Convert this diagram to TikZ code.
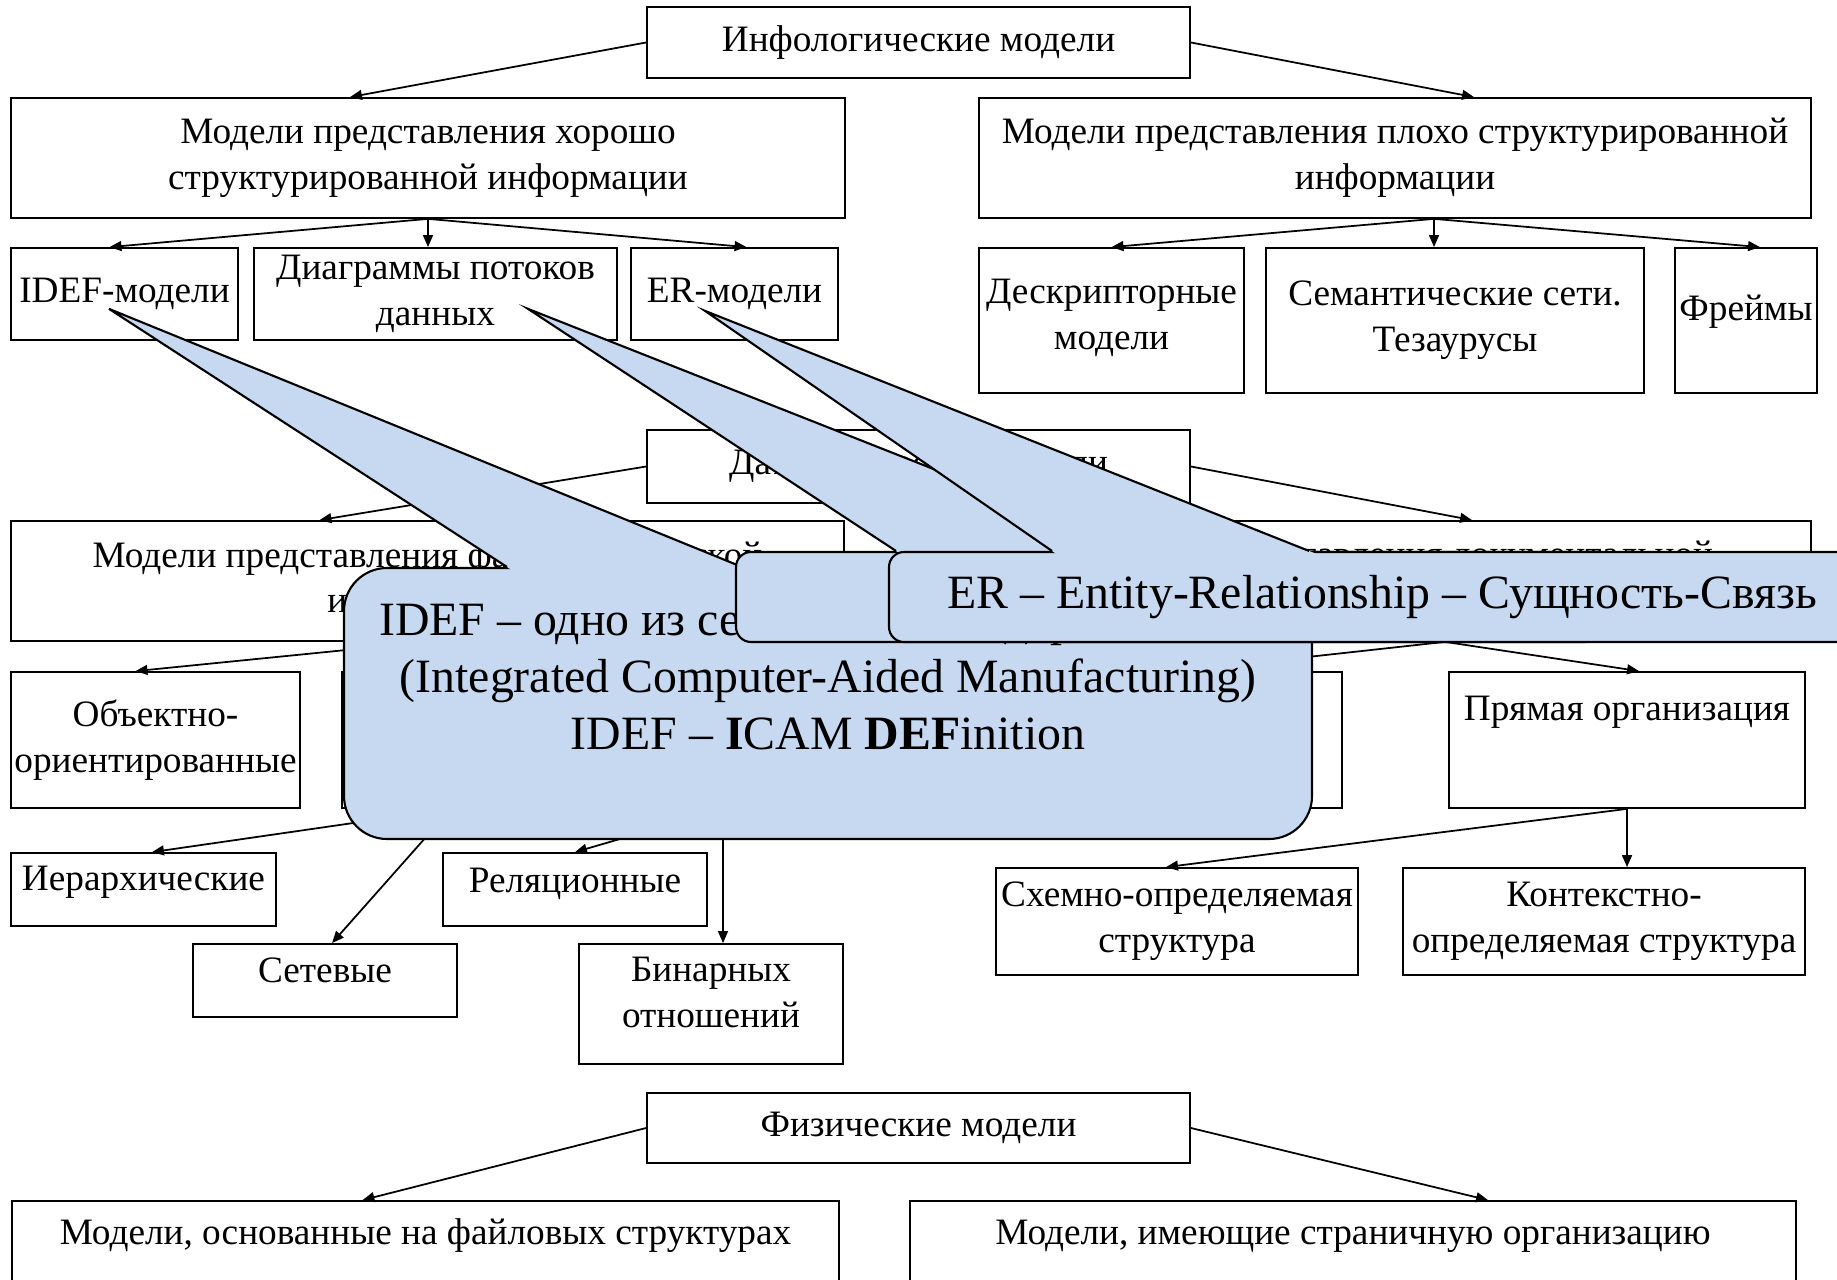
\documentclass[tikz,border=0pt]{standalone}
\usepackage{fontspec}
\setmainfont{Liberation Serif}
\usetikzlibrary{positioning, arrows.meta, calc}
\definecolor{NoteBlue}{HTML}{C6D9F1}

\begin{document}
\begin{tikzpicture}[
    box/.style={rectangle, draw=black, fill=white, line width=0.5pt, inner xsep=0pt, inner ysep=1pt,
                font=\fontsize{10.6}{13}\selectfont, align=center},
    sz/.style 2 args={minimum width=#1cm, minimum height=#2cm},
    topline/.style={text height=0.3cm, text depth=#1cm},
    lift/.style={text depth=#1cm},
    note/.style={rectangle, rounded corners=#1cm, draw=black, fill=NoteBlue, line width=0.6pt,
                 font=\fontsize{13.6}{16.2}\selectfont, align=center},
    conn/.style={-{Triangle[length=3.4pt, width=2.8pt]}, line width=0.5pt},
    rim/.style={draw=black, line width=0.6pt}
]
  \useasboundingbox (0,0) rectangle (18.37,-12.80);
  \clip (0,0) rectangle (18.37,-12.80);

  % Infological models
  \node[box, sz={5.43}{0.71}] (info) at (9.185,-0.425) {Инфологические модели};
  \node[box, sz={8.34}{1.20}] (good) at (4.28,-1.58) {Модели представления хорошо\\структурированной информации};
  \node[box, sz={8.32}{1.20}] (poor) at (13.95,-1.58) {Модели представления плохо структурированной\\информации};
  \node[box, sz={2.27}{0.92}] (idef) at (1.245,-2.94) {IDEF-модели};
  \node[box, sz={3.63}{0.92}] (dfd) at (4.355,-2.94) {Диаграммы потоков\\данных};
  \node[box, sz={2.07}{0.92}] (er) at (7.345,-2.94) {ER-модели};
  \node[box, sz={2.65}{1.45}, lift=0.12] (descr) at (11.115,-3.205) {Дескрипторные\\модели};
  \node[box, sz={3.78}{1.45}] (sem) at (14.55,-3.205) {Семантические сети.\\Тезаурусы};
  \node[box, sz={1.42}{1.45}, lift=0.25] (frames) at (17.46,-3.205) {Фреймы};

  % Datalogical models
  \node[box, sz={5.43}{0.73}] (datal) at (9.185,-4.665) {Даталогические модели};
  \node[box, sz={8.33}{1.20}] (fact) at (4.275,-5.81) {Модели представления фактографической\\информации};
  \node[box, sz={8.32}{1.20}] (docum) at (13.95,-5.81) {Модели представления документальной\\информации};
  \node[box, sz={2.89}{1.36}] (oop) at (1.555,-7.40) {Объектно-\\ориентированные};
  \node[box, sz={2.18}{1.36}] (graph) at (4.51,-7.40) {};
  \node[box, sz={2.46}{1.36}] (setth) at (7.23,-7.40) {};
  \node[box, sz={3.26}{1.36}] (docleft) at (11.79,-7.40) {};
  \node[box, sz={3.56}{1.36}, topline=0.68] (direct) at (16.27,-7.40) {Прямая организация};
  \node[box, sz={2.65}{0.73}, lift=0.22] (hier) at (1.435,-8.895) {Иерархические};
  \node[box, sz={2.64}{0.73}, lift=0.19] (rel) at (5.75,-8.895) {Реляционные};
  \node[box, sz={2.64}{0.73}, lift=0.21] (net) at (3.25,-9.805) {Сетевые};
  \node[box, sz={2.64}{1.20}, lift=0.23] (bin) at (7.11,-10.04) {Бинарных\\отношений};
  \node[box, sz={3.62}{1.07}] (schema) at (11.77,-9.215) {Схемно-определяемая\\структура};
  \node[box, sz={4.02}{1.07}] (context) at (16.04,-9.215) {Контекстно-\\определяемая структура};

  % Physical models
  \node[box, sz={5.43}{0.70}] (phys) at (9.185,-11.28) {Физические модели};
  \node[box, sz={8.27}{1.60}, topline=1.04] (files) at (4.255,-12.81) {Модели, основанные на файловых структурах};
  \node[box, sz={8.86}{1.60}, topline=1.04] (pages) at (13.53,-12.81) {Модели, имеющие страничную организацию};

  \coordinate (poorOut) at ([xshift=0.39cm]poor.south);
  \coordinate (docOut) at ([xshift=0.5cm]docum.south);

  \draw[conn] (info.west) -- ([xshift=-0.78cm]good.north);
  \draw[conn] (info.east) -- ([xshift=0.79cm]poor.north);
  \draw[conn] (good.south) -- ([xshift=-0.15cm]idef.north);
  \draw[conn] (good.south) -- (good.south |- dfd.north);
  \draw[conn] (good.south) -- ([xshift=0.12cm]er.north);
  \draw[conn] (poorOut) -- (descr.north);
  \draw[conn] (poorOut) -- (poorOut |- sem.north);
  \draw[conn] (poorOut) -- ([xshift=0.14cm]frames.north);
  \draw[conn] (datal.west) -- ([xshift=-1.08cm]fact.north);
  \draw[conn] (datal.east) -- ([xshift=0.77cm]docum.north);
  \draw[conn] (fact.south) -- ([xshift=-0.2cm]oop.north);
  \draw[conn] (fact.south) -- (graph.north);
  \draw[conn] (fact.south) -- (setth.north);
  \draw[conn] (docOut) -- (docleft.north);
  \draw[conn] (docOut) -- ([xshift=0.12cm]direct.north);
  \draw[conn] (graph.south) -- ([xshift=0.085cm]hier.north);
  \draw[conn] (graph.south) -- ([xshift=0.07cm]net.north);
  \draw[conn] (setth.south) -- (rel.north);
  \draw[conn] (setth.south) -- (setth.south |- bin.north);
  \draw[conn] (direct.south) -- ([xshift=-0.11cm]schema.north);
  \draw[conn] (direct.south) -- (direct.south |- context.north);
  \draw[conn] (phys.west) -- ([xshift=-0.63cm]files.north);
  \draw[conn] (phys.east) -- ([xshift=1.35cm]pages.north);

  % IDEF callout
  \node[note=0.43, sz={9.68}{2.71}, text height=1.0cm, text depth=0.08cm] (idefnote) at (8.28,-7.035)
    {IDEF – одно из семейства стандартов ICAM\\(Integrated Computer-Aided Manufacturing)\\IDEF – \textbf{I}CAM \textbf{DEF}inition};
  \coordinate (idefTip) at ($(idef.south)+(-0.155,0.32)$);
  \coordinate (idefL) at ($(idefnote.north west)+(1.64,0)$);
  \coordinate (idefR) at ($(idefnote.north west)+(3.99,0)$);
  \fill[NoteBlue] (idefTip) -- ($(idefTip)!1.02!(idefL)$) -- ($(idefTip)!1.02!(idefR)$) -- cycle;
  \draw[rim] (idefL) -- (idefTip) -- (idefR);

  % DFD callout
  \node[note=0.15, sz={8.64}{0.90}] (dfdnote) at (11.68,-5.97) {};
  \coordinate (dfdTip) at ($(dfd.south)+(0.925,0.32)$);
  \coordinate (dfdL) at ($(dfdnote.north west)+(1.61,0)$);
  \coordinate (dfdR) at ($(dfdnote.north west)+(4.06,0)$);
  \fill[NoteBlue] (dfdTip) -- ($(dfdTip)!1.02!(dfdL)$) -- ($(dfdTip)!1.02!(dfdR)$) -- cycle;
  \draw[rim] (dfdL) -- (dfdTip) -- (dfdR);

  % ER callout
  \node[note=0.15, sz={9.86}{0.90}] (ernote) at (13.82,-5.97) {ER – Entity-Relationship – Сущность-Связь};
  \coordinate (erTip) at ($(er.south)+(-0.295,0.30)$);
  \coordinate (erL) at ($(ernote.north west)+(1.64,0)$);
  \coordinate (erR) at ($(ernote.north west)+(4.21,0)$);
  \fill[NoteBlue] (erTip) -- ($(erTip)!1.02!(erL)$) -- ($(erTip)!1.02!(erR)$) -- cycle;
  \draw[rim] (erL) -- (erTip) -- (erR);
\end{tikzpicture}
\end{document}
